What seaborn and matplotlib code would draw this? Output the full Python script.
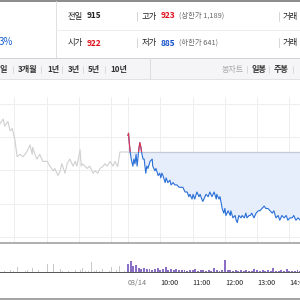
import numpy as np
import pandas as pd
import matplotlib.pyplot as plt
import seaborn as sns
from matplotlib.lines import Line2D
from matplotlib.patches import Rectangle

sns.set_style('white')
plt.rcParams['font.family'] = ['Noto Sans CJK KR', 'DejaVu Sans']

# ---- data ----
prev_close = 915

# earlier days (minutes relative to today's 09:00 open, compressed axis)
hist_t = [-238, -232, -229, -223, -219, -215, -210, -206, -201, -195, -188, -182, -178, -177,
          -173, -169, -164, -158, -150, -145, -139, -136, -130, -126, -123, -117, -113, -108,
          -102, -98, -95, -89, -87, -85, -80, -76, -71, -65, -61, -56, -52, -46, -43, -39,
          -33, -28, -24, -20, -19, -15, 0]
hist_p = [927, 929, 926, 928, 924, 925, 920, 913, 914, 913, 915, 918, 914, 917,
          914, 912, 914, 911, 911, 909, 907, 908, 905, 907, 910, 906, 910, 912,
          909, 911, 909, 916, 909, 910, 909, 908, 909, 906, 907, 906, 908, 909, 910, 909,
          911, 909, 911, 909, 909, 915, 915]

# today (minutes since 09:00)
today_t = [0, 1, 2, 4, 6, 9, 11, 13, 15, 17, 20, 22, 24, 26, 28, 30, 32, 33, 35, 37, 41, 45,
           46, 50, 52, 56, 59, 61, 63, 65, 69, 71, 74, 78, 80, 84, 87, 91, 95, 98, 102, 106,
           110, 113, 115, 119, 121, 124, 128, 132, 134, 137, 139, 143, 145, 149, 152, 156,
           160, 164, 165, 169, 171, 175, 178, 180, 182, 186, 190, 191, 195, 199, 201, 203,
           206, 210, 212, 216, 219, 221, 225, 227, 230, 234, 238, 242, 245, 249, 253, 256,
           260, 264, 268, 271, 275, 279, 282, 286, 290, 294, 297, 301, 305, 308, 312, 316, 320]
today_p = [922, 923, 920, 915, 912, 909, 912, 910, 914, 909, 916, 919, 917, 914, 912, 912,
           908, 906, 909, 908, 911, 912, 909, 907, 908, 905, 906, 904, 906, 905, 902, 904,
           902, 903, 901, 902, 901, 901, 900, 900, 900, 898, 898, 896, 897, 895, 897, 895,
           898, 896, 897, 895, 894, 896, 897, 896, 898, 896, 898, 895, 897, 895, 896, 891,
           889, 891, 888, 890, 888, 890, 887, 888, 886, 885, 888, 887, 888, 887, 889, 887,
           888, 888, 889, 887, 889, 890, 890, 891, 892, 891, 891, 890, 889, 890, 887, 888,
           886, 888, 887, 888, 886, 887, 887, 888, 886, 887, 886]

hist_vol_t = [-229, -219, -212, -206, -197, -191, -186, -177, -171, -167, -158, -150, -145,
              -139, -132, -126, -121, -117, -110, -104, -97, -89, -84, -79, -74, -67, -62,
              -58, -53, -48, -39, -35, -30, -22, -15, -7]
hist_vol = [4, 6, 3, 20, 5, 3, 8, 14, 4, 6, 32, 28, 12, 30, 20, 10, 4, 8, 3, 22, 9, 6, 14, 4,
            5, 38, 3, 8, 4, 10, 13, 5, 18, 6, 22, 5]

today_vol_t = list(range(0, 325, 5))
today_vol = [30, 40, 22, 25, 14, 12, 15, 10, 12, 8, 10, 14, 9, 12, 18, 8, 12, 6, 10, 8, 6,
             9, 5, 7, 6, 10, 5, 7, 6, 4, 8, 5, 14, 6, 5, 8, 44, 8, 6, 5, 9, 4, 6, 5, 7, 4,
             5, 10, 6, 4, 8, 5, 6, 4, 14, 5, 4, 6, 3, 10, 4, 5, 3, 7, 4]

grid_x = [-212, -150, -91, -32, 0, 60, 120, 180, 240, 300]
grid_y = [935.4, 921.3, 907.2, 893.0, 878.9]
time_ticks = [0, 60, 120, 180, 240, 300]
time_labels = ['03/14', '10:00', '11:00', '12:00', '13:00', '14:00']

hist_df = pd.DataFrame({'t': hist_t, 'price': hist_p})
today_df = pd.DataFrame({'t': today_t, 'price': today_p})

XMIN, XMAX = -237.8, 319.6
BLUE = '#2a6fd6'
RED = '#e8334a'


def fx(px):
    return px / 300


def fy(py):
    return 1 - py / 300


fig = plt.figure(figsize=(3, 3), dpi=100)
fig.patch.set_facecolor('white')


def hline(y, x0, x1, color, lw=0.7):
    fig.add_artist(Line2D([fx(x0), fx(x1)], [fy(y), fy(y)], color=color, lw=lw,
                          transform=fig.transFigure))


def vline(x, y0, y1, color, lw=0.7):
    fig.add_artist(Line2D([fx(x), fx(x)], [fy(y0), fy(y1)], color=color, lw=lw,
                          transform=fig.transFigure))


def txt(x, y, s, size=6, color='#222222', weight='normal', ha='left'):
    fig.text(fx(x), fy(y), s, fontsize=size, color=color, fontweight=weight,
             ha=ha, va='center')


# ---- header ----
hline(0.6, 0, 300, '#6b6b6b', lw=1.1)
vline(55.5, 1, 58, '#e0e0e0')
hline(30, 56, 300, '#ededed')
for sx in [137, 279]:
    vline(sx, 12, 21, '#cfcfcf', lw=0.6)
    vline(sx, 38, 47, '#cfcfcf', lw=0.6)

txt(13, 42, '3%', size=7, color='#1a5fd0', ha='right')
txt(68, 16, '전일')
txt(87, 16, '915', weight='bold')
txt(68, 43, '시가')
txt(87, 43, '922', color='#e0101a', weight='bold')
txt(142, 16, '고가')
txt(161, 16, '923', color='#e0101a', weight='bold')
txt(179, 16, '(상한가 1,189)', size=5.3, color='#666666')
txt(142, 43, '저가')
txt(161, 43, '885', color='#1450c8', weight='bold')
txt(179, 43, '(하한가 641)', size=5.3, color='#666666')
txt(283, 16, '거래')
txt(283, 43, '거래')

# ---- tab bar ----
fig.add_artist(Rectangle((0, fy(79)), 1, 21 / 300, transform=fig.transFigure,
                         facecolor='#f5f5f7', edgecolor='none'))
hline(58, 0, 300, '#d2d2d2')
hline(79, 0, 300, '#e2e2e2')
vline(150, 58, 79, '#dddddd')
for s, x in [('일', 0), ('3개월', 18), ('1년', 47), ('3년', 68), ('5년', 88), ('10년', 110)]:
    txt(x, 69.5, s, size=5.8, color='#333333', weight='bold')
for sx in [13, 41, 62, 83, 105, 247, 269, 293]:
    vline(sx, 66, 73, '#d5d5d5', lw=0.6)
txt(222, 69.5, '봉차트', size=5.8, color='#aaaaaa')
txt(252, 69.5, '일봉', size=5.8, color='#333333', weight='bold')
txt(274, 69.5, '주봉', size=5.8, color='#333333', weight='bold')

# ---- price chart ----
ax = fig.add_axes([0, fy(243), 1, (243 - 97) / 300])
ax.fill_between(today_df['t'], today_df['price'], prev_close, color='#e6eefb', lw=0)
ax.plot([0, XMAX], [prev_close, prev_close], color='#c6cad4', lw=0.9)
sns.lineplot(data=hist_df, x='t', y='price', color='#d0d0d0', lw=0.8, ax=ax)
sns.lineplot(data=today_df, x='t', y='price', color=BLUE, lw=0.8, ax=ax)
sns.lineplot(data=today_df, x='t', y='price', color=RED, lw=0.8, ax=ax)
red_line = ax.lines[-1]
clip = Rectangle((XMIN, prev_close), XMAX - XMIN, 100, transform=ax.transData)
red_line.set_clip_path(clip)

ax.set_xlim(XMIN, XMAX)
ax.set_ylim(876.3, 938.4)
ax.set_xticks(grid_x)
ax.set_yticks(grid_y)
ax.grid(True, color='#eeeeee', lw=0.7)
ax.tick_params(length=0, labelbottom=False, labelleft=False)
ax.set_xlabel('')
ax.set_ylabel('')
for sp in ax.spines.values():
    sp.set_visible(False)

hline(243, 0, 300, '#9a9a9a', lw=1.1)
hline(299, 0, 300, '#8a8a8a', lw=1.1)

# ---- volume ----
vax = fig.add_axes([0, fy(272), 1, (272 - 245) / 300])
vax.bar(hist_vol_t, hist_vol, width=1.6, color='#c9c9c9', lw=0)
vax.bar(today_vol_t, today_vol, width=3.6, color='#8b6fc6', lw=0)
vax.set_xlim(XMIN, XMAX)
vax.set_ylim(0, 100)
vax.set_yticks([])
vax.set_xticks(time_ticks, time_labels)
vax.tick_params(axis='x', length=3, width=0.6, color='#555555', pad=2, labelsize=5.2)
for i, lbl in enumerate(vax.get_xticklabels()):
    lbl.set_ha('left')
    lbl.set_color('#777777' if i == 0 else '#222222')
for name, sp in vax.spines.items():
    sp.set_visible(name == 'bottom')
vax.spines['bottom'].set_color('#555555')
vax.spines['bottom'].set_linewidth(0.7)
vax.patch.set_alpha(0)

fig.savefig('out.png', dpi=100)
